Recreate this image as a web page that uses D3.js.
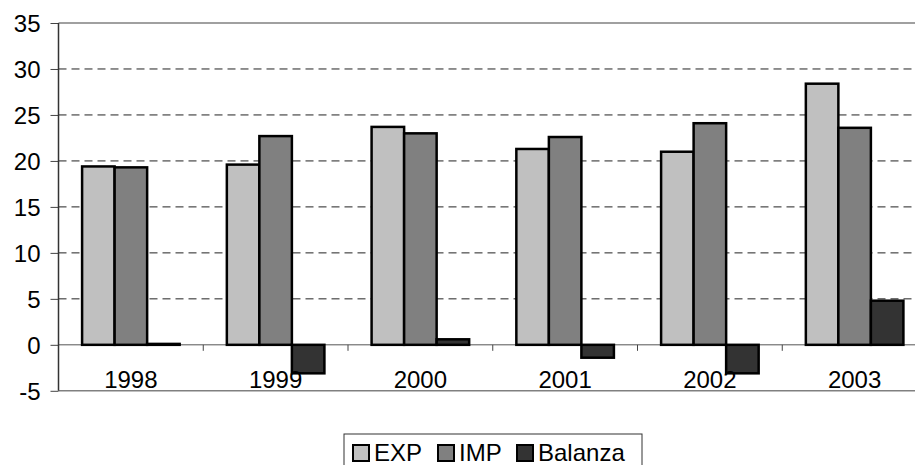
<!DOCTYPE html>
<html>
<head>
    <meta charset="utf-8">
    <style>
        body {
            margin: 0;
            background: #fff;
        }

        svg {
            display: block;
        }

        svg text {
            font-family: "Liberation Sans", Arial, sans-serif;
        }

        .y .domain {
            display: none;
        }

        .y .tick text {
            font-size: 24px;
            fill: #000;
        }

        .y .tick line {
            stroke: #444;
        }

        .cat-label {
            font-size: 24px;
            fill: #000;
        }

        .legend-text {
            font-size: 24px;
            fill: #000;
        }
    </style>
</head>
<body>
    <svg width="915" height="465"></svg>

    <script src="https://d3js.org/d3.v7.min.js"></script>
    <script>
        // data
        let years = ["1998", "1999", "2000", "2001", "2002", "2003"]
        let seriesNames = ["EXP", "IMP", "Balanza"]
        let expValues = [19.4, 19.6, 23.7, 21.3, 21.0, 28.4]
        let impValues = [19.3, 22.7, 23.0, 22.6, 24.1, 23.6]
        let balanzaValues = [0.1, -3.1, 0.6, -1.4, -3.1, 4.8]
        let yTicks = [-5, 0, 5, 10, 15, 20, 25, 30, 35]

        let seriesColors = ["#c0c0c0", "#808080", "#333333"]

        let svg = d3.select("svg")

        // plot area, right edge runs past the picture like the reference
        let margin = { top: 23, left: 58.5, right: 927, bottom: 390.8 }

        let rows = years.map((yr, i) => ({
            year: yr,
            EXP: expValues[i],
            IMP: impValues[i],
            Balanza: balanzaValues[i]
        }))

        let x0 = d3.scaleBand()
            .domain(years)
            .range([margin.left, margin.right])
            .paddingInner(0.326)
            .paddingOuter(0.163)

        let x1 = d3.scaleBand()
            .domain(seriesNames)
            .range([0, x0.bandwidth()])

        let y = d3.scaleLinear()
            .domain([-5, 35])
            .range([margin.bottom, margin.top])

        let color = d3.scaleOrdinal()
            .domain(seriesNames)
            .range(seriesColors)

        // dashed gridlines
        svg.append("g")
            .selectAll("line")
            .data(yTicks.filter(d => d > 0 && d < 35))
            .join("line")
            .attr("x1", margin.left)
            .attr("x2", 915)
            .attr("y1", d => y(d))
            .attr("y2", d => y(d))
            .attr("stroke", "#222")
            .attr("stroke-width", 1)
            .attr("stroke-dasharray", "8,5")

        // top and bottom border lines
        svg.append("line")
            .attr("x1", margin.left).attr("x2", 915)
            .attr("y1", y(35)).attr("y2", y(35))
            .attr("stroke", "#808080").attr("stroke-width", 1.5)

        svg.append("line")
            .attr("x1", margin.left).attr("x2", 915)
            .attr("y1", y(-5)).attr("y2", y(-5))
            .attr("stroke", "#808080").attr("stroke-width", 1.5)

        // zero line
        svg.append("line")
            .attr("x1", margin.left).attr("x2", 915)
            .attr("y1", y(0)).attr("y2", y(0))
            .attr("stroke", "#555").attr("stroke-width", 1)

        // category ticks on zero line
        svg.append("g")
            .selectAll("line")
            .data(years.slice(1))
            .join("line")
            .attr("x1", d => x0(d) - x0.step() * x0.paddingInner() / 2)
            .attr("x2", d => x0(d) - x0.step() * x0.paddingInner() / 2)
            .attr("y1", y(0))
            .attr("y2", y(0) + 6)
            .attr("stroke", "#444")

        // bars
        svg.append("g")
            .selectAll("g")
            .data(rows)
            .join("g")
            .attr("transform", d => `translate(${x0(d.year)},0)`)
            .selectAll("rect")
            .data(d => seriesNames.map(k => ({ key: k, value: d[k] })))
            .join("rect")
            .attr("x", d => x1(d.key))
            .attr("width", x1.bandwidth())
            .attr("y", d => y(Math.max(0, d.value)))
            .attr("height", d => Math.abs(y(d.value) - y(0)))
            .attr("fill", d => color(d.key))
            .attr("stroke", "#000")
            .attr("stroke-width", 2.5)

        // y axis, plain hyphen for the minus
        let yAxisSettings = d3.axisLeft(y)
            .tickValues(yTicks)
            .tickSize(8)
            .tickPadding(10)
            .tickFormat(d => String(d))

        svg.append("g")
            .attr("class", "y axis")
            .attr("transform", `translate(${margin.left},0)`)
            .call(yAxisSettings)
            .call(g => g.selectAll("text").attr("dy", "0.35em"))

        svg.append("line")
            .attr("x1", margin.left).attr("x2", margin.left)
            .attr("y1", y(35)).attr("y2", y(-5))
            .attr("stroke", "#333").attr("stroke-width", 1.5)

        // category labels
        svg.append("g")
            .selectAll("text")
            .data(years)
            .join("text")
            .attr("class", "cat-label")
            .attr("x", d => x0(d) + x0.bandwidth() / 2)
            .attr("y", 388)
            .attr("text-anchor", "middle")
            .text(d => d)

        // legend
        let legend = svg.append("g")

        legend.append("rect")
            .attr("x", 344)
            .attr("y", 434)
            .attr("width", 298)
            .attr("height", 40)
            .attr("fill", "#fff")
            .attr("stroke", "#333")
            .attr("stroke-width", 1)

        let legendX = [353, 438, 517]

        legend.selectAll("rect.sw")
            .data(seriesNames)
            .join("rect")
            .attr("class", "sw")
            .attr("x", (d, i) => legendX[i])
            .attr("y", 445)
            .attr("width", 16)
            .attr("height", 16)
            .attr("fill", d => color(d))
            .attr("stroke", "#000")
            .attr("stroke-width", 2)

        legend.selectAll("text")
            .data(seriesNames)
            .join("text")
            .attr("class", "legend-text")
            .attr("x", (d, i) => legendX[i] + 21)
            .attr("y", 461)
            .text(d => d)
    </script>
</body>
</html>
